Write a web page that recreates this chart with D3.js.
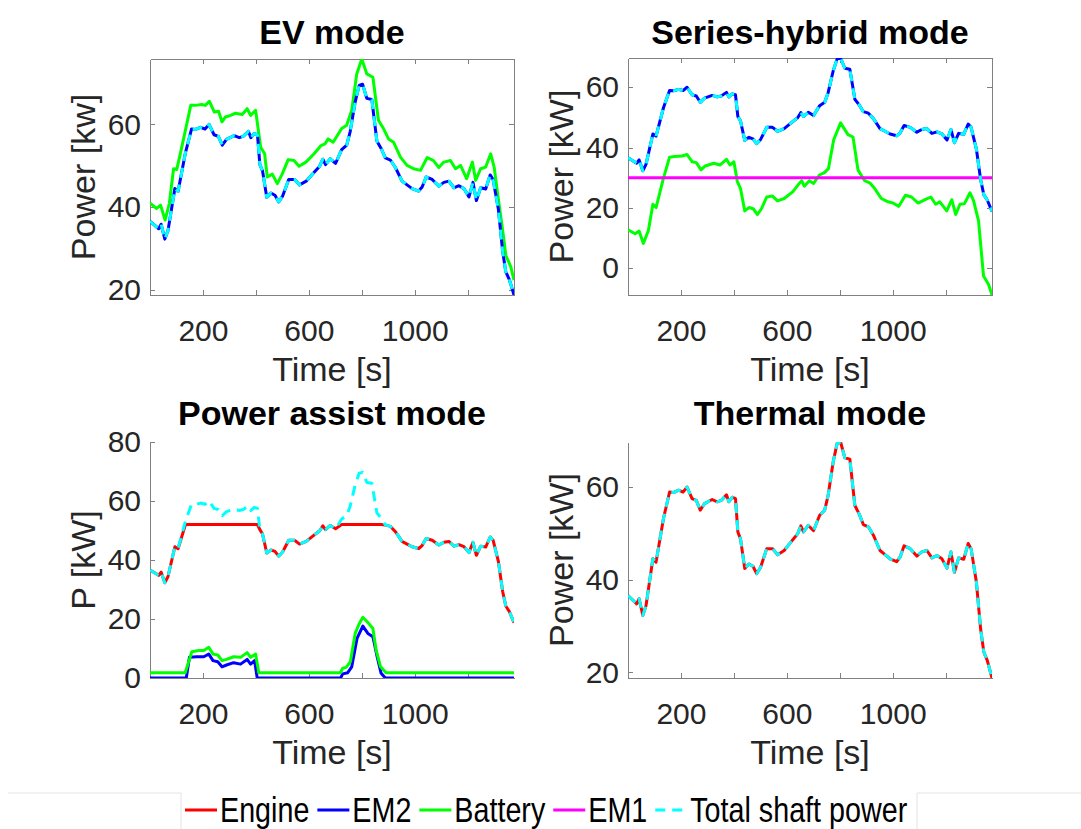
<!DOCTYPE html>
<html lang="en">
<head>
<meta charset="UTF-8">
<title>Operating modes</title>
<style>
  body { margin: 0; background: #fff; }
  svg { font-family: "Liberation Sans", Arial, Helvetica, sans-serif; }
  .Axis path, .Axis line { stroke: #808080; shape-rendering: crispEdges; }
  .Axis text { fill: #262626; font-size: 30px; font-family: "Liberation Sans", Arial, sans-serif; }
  .f-title { font-size: 34px; font-weight: bold; fill: #000; text-anchor: middle; }
  .f-label { font-size: 34px; fill: #262626; text-anchor: middle; }
  .legend text { font-size: 35px; fill: #000; }
</style>
<script src="https://d3js.org/d3.v7.min.js"></script>
</head>
<body>
<script>
// ---- values ----
// shared time grid [s] of the drive-cycle traces
const time = [0, 33, 42, 56, 68, 94, 106, 134, 157, 172, 191, 208, 223, 242, 258, 273, 289, 318, 337, 352,
  372, 381, 394, 406, 415, 425, 441, 457, 472, 486, 501, 524, 546, 565, 590, 615, 641, 653, 663, 681,
  701, 724, 743, 756, 775, 790, 803, 819, 838, 857, 873, 889, 908, 927, 952, 971, 990, 1015, 1028, 1043,
  1066, 1091, 1110, 1129, 1148, 1167, 1186, 1205, 1220, 1233, 1249, 1268, 1285, 1296, 1316, 1332, 1344, 1357, 1375];
// total shaft power [kW] (also EM2 in EV / series mode and engine in thermal mode)
const shaftPower = [36.6, 34.8, 35.9, 32.3, 34.4, 44.5, 43.8, 53.2, 58.9, 58.8, 59.3, 58.9, 60.0, 57.5, 57.1, 55.0, 56.4, 57.3, 56.8, 57.1,
  58.3, 56.8, 57.8, 57.5, 50.3, 48.8, 42.4, 43.4, 42.9, 41.3, 42.7, 46.7, 46.7, 45.4, 46.3, 48.1, 49.9, 51.6, 50.3, 51.7,
  50.6, 53.9, 55.0, 58.2, 65.4, 69.4, 69.7, 66.3, 66.0, 56.0, 54.2, 51.9, 51.4, 49.6, 46.3, 45.4, 44.5, 43.9, 44.9, 47.3,
  46.7, 45.1, 46.0, 46.3, 44.7, 45.2, 44.5, 42.5, 46.0, 41.6, 44.7, 44.4, 47.8, 46.7, 39.5, 29.4, 24.4, 22.6, 18.8];
// engine in power assist mode [kW]
const assistEngine = [36.6, 34.8, 35.9, 32.3, 34.4, 44.5, 43.8, 52, 52, 52, 52, 52, 52, 52, 52, 52, 52, 52, 52, 52,
  52, 52, 52, 52, 50.3, 48.8, 42.4, 43.4, 42.9, 41.3, 42.7, 46.7, 46.7, 45.4, 46.3, 48.1, 49.9, 51.6, 50.3, 51.7,
  50.6, 52, 52, 52, 52, 52, 52, 52, 52, 52, 52, 51.9, 51.4, 49.6, 46.3, 45.4, 44.5, 43.9, 44.9, 47.3,
  46.7, 45.1, 46.0, 46.3, 44.7, 45.2, 44.5, 42.5, 46.0, 41.6, 44.7, 44.4, 47.8, 46.7, 39.5, 29.4, 24.4, 22.6, 18.8];

// battery in EV mode
const evBatteryTime = [0, 25, 40, 57, 73, 89, 101, 120, 154, 171, 196, 209, 224, 243, 259, 272, 285, 304, 323, 348,
  367, 380, 399, 418, 433, 443, 462, 481, 500, 522, 544, 563, 589, 620, 646, 661, 673, 692, 724, 743,
  762, 781, 800, 819, 842, 863, 882, 901, 920, 946, 971, 996, 1022, 1047, 1070, 1091, 1110, 1135, 1154, 1173,
  1196, 1218, 1230, 1249, 1268, 1287, 1300, 1313, 1332, 1344, 1363, 1375];
const evBattery = [41.0, 39.7, 40.5, 36.9, 40.9, 49.3, 49.1, 54.5, 64.6, 64.6, 64.8, 64.6, 65.6, 63.0, 63.2, 60.6, 61.8, 62.2, 62.7, 62.4,
  63.8, 62.2, 63.4, 54.5, 52.9, 47.3, 48.0, 45.7, 48.1, 51.5, 51.3, 49.9, 50.9, 52.9, 54.9, 55.3, 56.5, 55.7, 59.0, 59.8,
  63.4, 72.2, 75.8, 72.2, 71.4, 61.0, 59.0, 56.5, 55.7, 52.1, 50.1, 49.3, 48.9, 52.0, 51.3, 49.6, 50.9, 51.3, 49.3, 50.1,
  46.9, 50.9, 46.5, 49.3, 49.7, 52.9, 49.7, 43.3, 34.5, 28.4, 25.6, 22.4];

// battery and EM1 in series-hybrid mode
const shBatteryTime = [0, 27, 42, 58, 77, 94, 106, 132, 157, 175, 204, 223, 242, 258, 276, 292, 324, 347, 372, 385,
  400, 413, 425, 441, 457, 473, 489, 504, 524, 546, 565, 590, 622, 647, 656, 666, 685, 701, 723, 742,
  757, 777, 803, 831, 850, 869, 894, 913, 932, 957, 982, 1001, 1023, 1048, 1071, 1096, 1122, 1144, 1162, 1178,
  1204, 1223, 1238, 1254, 1271, 1292, 1305, 1324, 1343, 1362, 1375];
const shBattery = [12.7, 11.4, 12.3, 8.2, 12.5, 21.2, 20.1, 29.2, 36.8, 37.0, 37.2, 37.7, 35.3, 35.0, 32.6, 33.9, 34.8, 34.2, 36.1, 34.2,
  35.3, 28.7, 26.4, 19.0, 20.1, 19.7, 17.8, 19.7, 23.6, 23.9, 22.3, 23.1, 25.3, 28.1, 29.0, 27.2, 29.0, 28.1, 30.9, 31.7,
  33.0, 42.6, 48.2, 44.3, 43.5, 32.5, 29.0, 28.3, 26.4, 23.1, 22.0, 21.6, 20.5, 24.2, 23.6, 21.6, 22.7, 23.6, 21.2, 22.0,
  19.0, 22.7, 17.8, 21.2, 21.4, 25.0, 22.5, 15.8, -2.6, -5.4, -8.9];
const shEm1Time = [0, 1375];
const shEm1 = [30, 30];

// battery and EM2 in power assist mode
const paBatteryTime = [0, 133, 158, 184, 203, 222, 238, 256, 272, 289, 316, 342, 367, 380, 399, 411, 719, 728, 741, 757,
  775, 791, 804, 823, 842, 854, 871, 892, 1375];
const paBattery = [1.8, 1.8, 8.9, 9.3, 9.3, 10.4, 8.1, 7.8, 5.9, 6.3, 7.2, 7.0, 8.6, 7.0, 8.1, 1.8, 1.8, 3.3, 3.6, 5.5,
  15.1, 18.5, 20.6, 18.8, 16.8, 9.5, 3.8, 1.8, 1.8];
const paEm2Time = [0, 137, 149, 177, 203, 222, 238, 256, 272, 289, 316, 342, 367, 380, 395, 405, 720, 728, 747, 762,
  782, 804, 823, 842, 858, 873, 889, 1375];
const paEm2 = [0, 0, 7.0, 7.2, 7.2, 8.1, 5.9, 5.5, 3.8, 4.4, 5.2, 4.7, 6.3, 4.7, 5.9, 0, 0, 1.4, 1.8, 3.8,
  13.4, 17.6, 15.1, 14.0, 7.2, 1.6, 0, 0];

const xTicks = [200, 400, 600, 800, 1000, 1200];
const xTickLabels = [200, 600, 1000];
const legendNames = ["Engine", "EM2", "Battery", "EM1", "Total shaft power"];

// ---- styles ----
const col = { engine: "#ff0000", em2: "#0000ff", battery: "#00ff00", em1: "#ff00ff", total: "#00ffff" };
const legendColors = [col.engine, col.em2, col.battery, col.em1, col.total];
const DASH = "10,7";

const w = 1081, h = 829;
const svg = d3.select("body").append("svg").attr("width", w).attr("height", h);

const panels = [
  { title: "EV mode", ylabel: "Power [kw]", x0: 150, x1: 514, y0: 295, y1: 59, yDomain: [18.8, 75.8], yTicks: [20, 40, 60], box: true,
    lines: [[evBatteryTime, evBattery, col.battery], [time, shaftPower, col.em2], [time, shaftPower, col.total, true]] },
  { title: "Series-hybrid mode", ylabel: "Power [kW]", x0: 628, x1: 992, y0: 295, y1: 58, yDomain: [-8.9, 69.7], yTicks: [0, 20, 40, 60], box: true,
    lines: [[time, shaftPower, col.em2], [shBatteryTime, shBattery, col.battery], [shEm1Time, shEm1, col.em1], [time, shaftPower, col.total, true]] },
  { title: "Power assist mode", ylabel: "P [kW]", x0: 150, x1: 514, y0: 678, y1: 442, yDomain: [0, 80], yTicks: [0, 20, 40, 60, 80], box: false,
    lines: [[time, assistEngine, col.engine], [paEm2Time, paEm2, col.em2], [paBatteryTime, paBattery, col.battery], [time, shaftPower, col.total, true]] },
  { title: "Thermal mode", ylabel: "Power [kW]", x0: 628, x1: 992, y0: 678, y1: 442, yDomain: [18.8, 69.7], yTicks: [20, 40, 60], box: false,
    lines: [[time, shaftPower, col.engine], [time, shaftPower, col.total, true]] }
];

panels.forEach((p, i) => {
  const xScale = d3.scaleLinear().domain([0, 1375]).range([p.x0, p.x1]);
  const yScale = d3.scaleLinear().domain(p.yDomain).range([p.y0, p.y1]);
  const g = svg.append("g");

  g.append("clipPath").attr("id", "clip" + i)
   .append("rect").attr("x", p.x0).attr("y", p.y1).attr("width", p.x1 - p.x0).attr("height", p.y0 - p.y1);

  // x axis, ticks pointing inward
  g.append("g").attr("class", "Axis x")
   .attr("transform", "translate(0," + p.y0 + ")")
   .call(d3.axisBottom(xScale).tickValues(xTicks).tickSize(-5).tickSizeOuter(0).tickPadding(25)
     .tickFormat(d => xTickLabels.includes(d) ? d : ""));

  g.append("g").attr("class", "Axis y")
   .attr("transform", "translate(" + p.x0 + ",0)")
   .call(d3.axisLeft(yScale).tickValues(p.yTicks).tickSize(-5).tickSizeOuter(0).tickPadding(9));

  if (p.box) {
    g.append("g").attr("class", "Axis")
     .attr("transform", "translate(0," + p.y1 + ")")
     .call(d3.axisTop(xScale).tickValues(xTicks).tickSize(-5).tickSizeOuter(0).tickFormat(""));
    g.append("g").attr("class", "Axis")
     .attr("transform", "translate(" + p.x1 + ",0)")
     .call(d3.axisRight(yScale).tickValues(p.yTicks).tickSize(-5).tickSizeOuter(0).tickFormat(""));
  }

  const plot = g.append("g").attr("clip-path", "url(#clip" + i + ")");
  p.lines.forEach(([t, v, c, dashed]) => {
    const line = d3.line().x((d, k) => xScale(t[k])).y(d => yScale(d));
    plot.append("path").datum(v)
      .attr("d", line)
      .attr("fill", "none")
      .attr("stroke", c)
      .attr("stroke-width", 3)
      .attr("stroke-linejoin", "round")
      .attr("stroke-dasharray", dashed ? DASH : null);
  });

  const cx = (p.x0 + p.x1) / 2;
  g.append("text").attr("class", "f-title").attr("x", cx).attr("y", p.y0 === 295 ? 44 : 425).text(p.title);
  g.append("text").attr("class", "f-label").attr("x", cx).attr("y", p.y0 + 86).text("Time [s]");
  g.append("text").attr("class", "f-label")
   .attr("transform", "translate(" + (p.x0 - 55) + "," + ((p.y0 + p.y1) / 2) + ") rotate(-90)")
   .text(p.ylabel);
});

// legend strip at the bottom
const lg = svg.append("g").attr("class", "legend");
lg.append("path")
  .attr("d", "M8,793H181V829M1081,793H917V829")
  .attr("fill", "none").attr("stroke", "#e3e3e3").attr("stroke-width", 1);

let lx = 185;
const ly = 810;
legendNames.forEach((name, i) => {
  lg.append("line")
    .attr("x1", lx).attr("x2", lx + 32).attr("y1", ly).attr("y2", ly)
    .attr("stroke", legendColors[i]).attr("stroke-width", 3)
    .attr("stroke-dasharray", i === 4 ? DASH : null);
  lx += 35;
  const t = lg.append("text")
    .attr("transform", "translate(" + lx + "," + (ly + 12) + ") scale(0.82,1)")
    .text(name);
  lx += t.node().getComputedTextLength() * 0.82 + 8;
});
</script>
</body>
</html>
